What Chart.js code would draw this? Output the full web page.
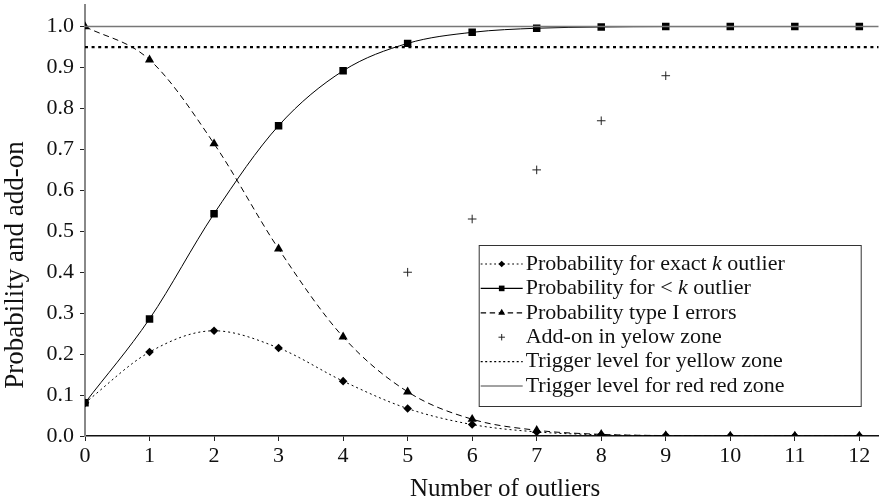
<!DOCTYPE html>
<html>
<head>
<meta charset="utf-8">
<script src="https://cdn.jsdelivr.net/npm/chart.js@4/dist/chart.umd.min.js"></script>
<style>
  html,body{margin:0;padding:0;background:#fff;}
  #wrap{width:884px;height:501px;position:relative;}
</style>
</head>
<body>
<div id="wrap"><canvas id="chart"></canvas></div>
<script>
// number of outliers k
const outliers=[0,1,2,3,4,5,6,7,8,9,10,11,12];
const probExact=[0.081,0.205,0.257,0.215,0.134,0.067,0.028,0.010,0.003,0.001,0.000,0.000,0.000];
const probBelow=[0.081,0.286,0.543,0.758,0.892,0.959,0.986,0.996,0.999,1.000,1.000,1.000,1.000];
const probTypeI=[1.000,0.919,0.714,0.457,0.242,0.108,0.041,0.014,0.004,0.001,0.000,0.000,0.000];
const addOnK=[5,6,7,8,9];
const addOn=[0.40,0.53,0.65,0.77,0.88];
const yellowTrigger=0.95;
const redTrigger=1.0;
const yTicks=[0,0.1,0.2,0.3,0.4,0.5,0.6,0.7,0.8,0.9,1.0];
const xTitle="Number of outliers";
const yTitle="Probability and add-on";

const FONT="'Liberation Serif', 'DejaVu Serif', serif";

const pts=(xs,ys)=>xs.map((x,i)=>({x:x,y:ys[i]}));

const datasets=[
  {label:"Trigger level for red red zone",data:[{x:0,y:redTrigger},{x:12.3,y:redTrigger}],
   borderColor:"#777",borderWidth:1.5,pointRadius:0,legendColor:"#444",legendWidth:1},
  {label:"Trigger level for yellow zone",data:[{x:0,y:yellowTrigger},{x:12.3,y:yellowTrigger}],
   borderColor:"#000",borderWidth:2.2,borderDash:[3,3.6],pointRadius:0,legendWidth:1.3,legendDash:[2,2.5]},
  {label:"Probability for exact k outlier",data:pts(outliers,probExact),
   borderColor:"#000",borderWidth:1,borderDash:[2,3],cubicInterpolationMode:"monotone",
   pointStyle:"rectRot",pointRadius:4.3,pointBackgroundColor:"#000",pointBorderWidth:0},
  {label:"Probability for < k outlier",data:pts(outliers,probBelow),
   borderColor:"#000",borderWidth:1,cubicInterpolationMode:"monotone",
   pointStyle:"rect",pointRadius:5.3,pointBackgroundColor:"#000",pointBorderWidth:0},
  {label:"Probability type I errors",data:pts(outliers,probTypeI),
   borderColor:"#000",borderWidth:1,borderDash:[6,4],cubicInterpolationMode:"monotone",
   pointStyle:"triangle",pointRadius:5.3,pointBackgroundColor:"#000",pointBorderWidth:0},
  {label:"Add-on in yelow zone",data:pts(addOnK,addOn),showLine:false,
   borderColor:"#222",pointStyle:"cross",pointRadius:4.3,pointBorderWidth:1}
];

// legend in a box inside the plot (line sample + marker), and the axis titles
const boxLegend={
  id:"boxLegend",
  afterDraw(chart){
    const ctx=chart.ctx, ca=chart.chartArea;
    const order=[2,3,4,5,1,0];
    const w=382,rowH=24.4,h=161;
    const x0=ca.right-w-18, y0=ca.bottom-h-30;
    ctx.save();
    ctx.fillStyle="#fff";
    ctx.fillRect(x0,y0,w,h);
    ctx.strokeStyle="#333";ctx.lineWidth=1;
    ctx.strokeRect(x0+0.5,y0+0.5,w,h);
    ctx.font="22px "+FONT;
    ctx.textBaseline="middle";
    order.forEach((di,r)=>{
      const ds=chart.data.datasets[di];
      const cy=y0+19+r*rowH;
      const lx1=x0+2,lx2=x0+44;
      if(ds.showLine!==false){
        ctx.beginPath();
        ctx.strokeStyle=ds.legendColor||ds.borderColor;
        ctx.lineWidth=ds.legendWidth||1.2;
        ctx.setLineDash(ds.legendDash||(ds.borderDash?ds.borderDash.map(v=>v*0.9):[]));
        ctx.moveTo(lx1,cy);ctx.lineTo(lx2,cy);ctx.stroke();
        ctx.setLineDash([]);
      }
      if(ds.pointStyle&&ds.pointRadius>0){
        ctx.fillStyle="#000";
        ctx.strokeStyle=ds.borderColor;
        ctx.lineWidth=1;
        const opts={pointStyle:ds.pointStyle,radius:ds.pointRadius*0.75,borderWidth:ds.pointStyle==="cross"?1:0,rotation:0};
        Chart.helpers.drawPoint(ctx,opts,lx1+21,cy);
      }
      ctx.fillStyle="#111";
      ctx.textAlign="left";
      const label=ds.label;
      const m=label.match(/^(.*?)\bk\b(.*)$/);
      const tx=x0+47;
      if(m){
        ctx.fillText(m[1],tx,cy);
        let ox=tx+ctx.measureText(m[1]).width;
        ctx.font="italic 22px "+FONT;
        ctx.fillText("k",ox,cy);
        ox+=ctx.measureText("k").width;
        ctx.font="22px "+FONT;
        ctx.fillText(m[2],ox,cy);
      }else{
        ctx.fillText(label,tx,cy);
      }
    });
    // axis titles
    ctx.fillStyle="#111";
    ctx.textAlign="center";
    ctx.textBaseline="middle";
    ctx.font="25px "+FONT;
    ctx.fillText(xTitle,505,489);
    ctx.translate(16,265);
    ctx.rotate(-Math.PI/2);
    ctx.font="27px "+FONT;
    ctx.fillText(yTitle,0,0);
    ctx.restore();
  }
};

new Chart(document.getElementById("chart"),{
  type:"line",
  data:{datasets:datasets},
  options:{
    responsive:true,
    maintainAspectRatio:false,
    animation:false,
    layout:{padding:{top:5,right:0,left:0,bottom:0}},
    plugins:{legend:{display:false},tooltip:{enabled:false}},
    scales:{
      x:{
        type:"linear",min:0,max:12.3,
        afterFit(s){s.height=65;s.paddingRight=0;s.paddingLeft=0;},
        afterBuildTicks(s){s.ticks=outliers.map(v=>({value:v}));},
        ticks:{color:"#111",font:{family:FONT,size:22},padding:2,maxRotation:0},
        grid:{drawOnChartArea:false,tickLength:5,color:"#222",lineWidth:1},
        border:{color:"#111",width:1.5}
      },
      y:{
        min:0,max:1.052,
        afterFit(s){s.width=85;s.paddingTop=0;s.paddingBottom=0;},
        afterBuildTicks(s){s.ticks=yTicks.map(v=>({value:v}));},
        ticks:{color:"#111",font:{family:FONT,size:22},padding:6,callback:v=>v.toFixed(1)},
        grid:{drawOnChartArea:false,tickLength:5,color:"#222",lineWidth:1},
        border:{color:"#888",width:2}
      }
    }
  },
  plugins:[boxLegend]
});
</script>
</body>
</html>
